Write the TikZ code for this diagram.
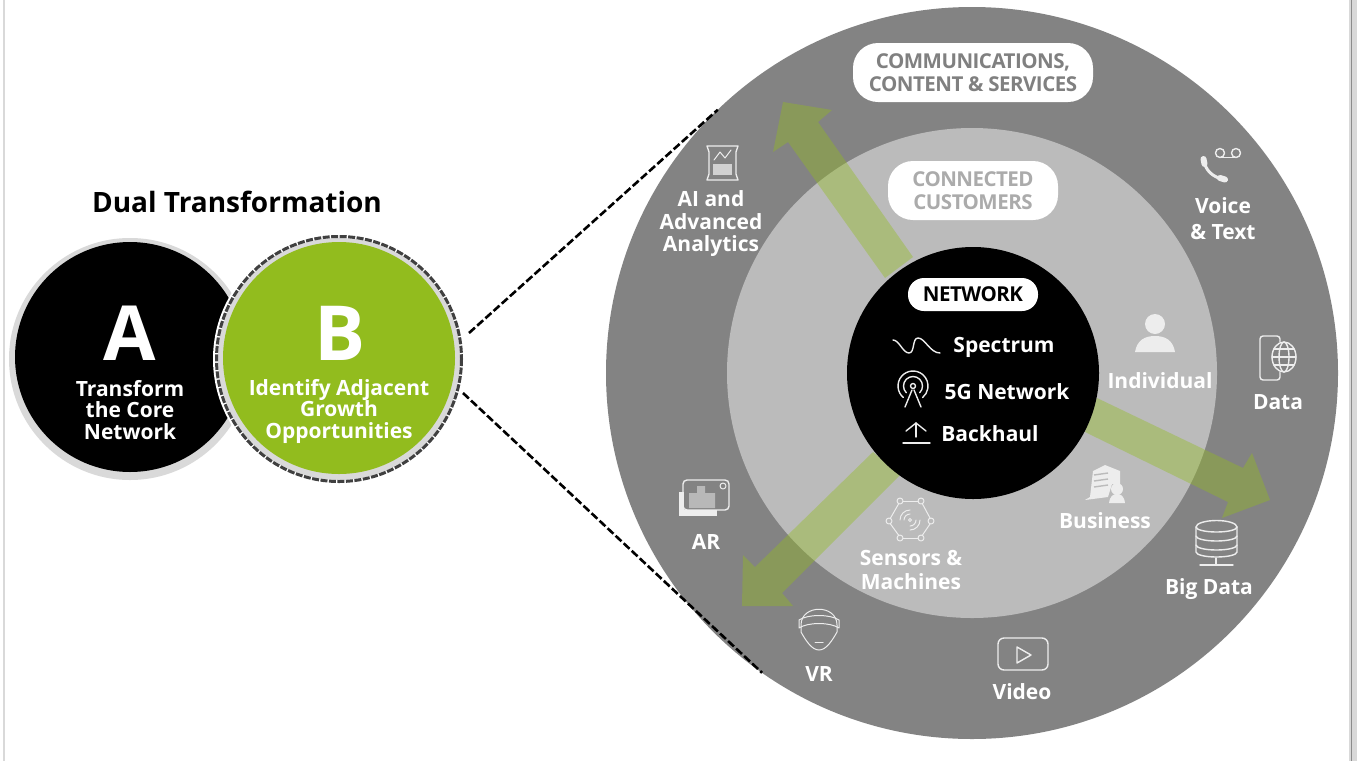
\documentclass[tikz,border=0pt]{standalone}
\usepackage{fontspec}
\setmainfont{Open Sans}
\definecolor{ringdark}{HTML}{838383}
\definecolor{ringlight}{HTML}{BBBBBB}
\definecolor{leafgreen}{HTML}{92BC1E}
\definecolor{haloGray}{HTML}{D9D9D9}
\definecolor{iconwhite}{HTML}{EDEDED}
\begin{document}
\begin{tikzpicture}
	[x=1pt,y=-1pt,
	disc/.style={circle,inner sep=0pt,outer sep=0pt},
	label/.style={text=white,font=\bfseries\fontsize{21}{21.5}\selectfont,align=center,inner sep=0pt},
	bigletter/.style={text=white,font=\bfseries\fontsize{76}{76}\selectfont,inner sep=0pt},
	pill/.style={fill=white,rounded corners=25pt,inner sep=0pt,align=center,font=\addfontfeatures{LetterSpace=-2.5}\bfseries\fontsize{20.5}{23.5}\selectfont},
	growth/.style={fill=leafgreen,opacity=.4},
	guide/.style={draw=black,line width=2.6pt,dash pattern=on 8pt off 3pt},
	icon/.style={draw=iconwhite,line width=1.4pt,line join=round,line cap=round},
	thinicon/.style={icon,line width=1pt},
	iconfill/.style={fill=iconwhite}]
	\fill[white] (0,0) rectangle (1357,761);
	\useasboundingbox (0,0) rectangle (1357,761);
	\fill[haloGray] (3,0) rectangle (5,761);
	\fill[haloGray] (1349,0) rectangle (1357,761);
	\draw[black!45,line width=1pt] (1351,0) -- (1351,761);

	\node[black,font=\bfseries\fontsize{28}{30}\selectfont,inner sep=0pt] (title) at (237,202) {Dual Transformation};
	\node[disc,fill=haloGray,minimum size=242pt] (coreHalo) at (130,359) {};
	\node[disc,fill=black,minimum size=230pt] (core) at (130,357) {};
	\node[disc,fill=white,minimum size=252pt] (adjGap) at (339,359) {};
	\node[disc,fill=haloGray,minimum size=242pt] (adjHalo) at (339,359) {};
	\node[disc,fill=leafgreen,minimum size=232pt] (adj) at (339,358) {};
	\draw[black!75,line width=3pt,dash pattern=on 7pt off 1.5pt] (339,359) circle (122.5);
	\node[bigletter] (letterA) at (130,333) {A};
	\node[bigletter] (letterB) at (340,333) {B};
	\node[label] (coreText) at (130,410) {Transform\\the Core\\Network};
	\node[label] (adjText) at (339,411) {Identify Adjacent\\Growth\\Opportunities};

	\node[disc,fill=ringdark,minimum size=732pt] (outer) at (972,373) {};
	\node[disc,fill=ringlight,minimum size=490pt] (inner) at (972,373) {};

	\coordinate (adjUp) at (469,333);
	\coordinate (adjDown) at (463,393);
	\draw[guide] (adjUp) -- (outer.134.4);
	\draw[guide] (adjDown) -- (outer.235.5);

	\fill[growth] (885,278) -- (788,142) -- (773,152) -- (783,102) -- (832,110) -- (818,122) -- (913,257) -- cycle;
	\fill[growth] (1097,398) -- (1243,468) -- (1252,453) -- (1270,500) -- (1222,518) -- (1228,502) -- (1085,432) -- cycle;
	\fill[growth] (873,452) -- (755,567) -- (743,555) -- (742,606) -- (793,606) -- (782,593) -- (900,475) -- cycle;

	\node[disc,fill=black,minimum size=252pt] (net) at (973,373) {};

	\node[pill,text=black!50,minimum width=240pt,minimum height=59pt] (commPill) at (973,72.5) {COMMUNICATIONS,\\CONTENT \& SERVICES};
	\node[pill,text=black!33,minimum width=170pt,minimum height=59pt] (custPill) at (973,190.5) {CONNECTED\\CUSTOMERS};
	\node[pill,text=black,minimum width=130pt,minimum height=33pt,rounded corners=16pt] (netPill) at (973,294.5) {NETWORK};

	\node[label] (spectrum) at (1004,347) {Spectrum};
	\node[label] (fiveG) at (1007,392) {5G Network};
	\node[label] (backhaul) at (990,434) {Backhaul};
	\node[label] (individual) at (1160,381) {Individual};
	\node[label] (business) at (1105,521) {Business};
	\node[label] (sensors) at (911,570) {Sensors \&\\[3pt]Machines};
	\node[label] (analytics) at (711,224) {AI and\\[1pt]Advanced\\[1pt]Analytics};
	\node[label] (voice) at (1223,218.5) {Voice\\[5pt]\& Text};
	\node[label] (data) at (1278,402) {Data};
	\node[label] (bigData) at (1209,589) {Big Data};
	\node[label] (video) at (1022,692) {Video};
	\node[label] (vr) at (819,674) {VR};
	\node[label] (ar) at (706,542) {AR};

	\draw[icon] (893,340) .. controls (899,340) and (903,353) .. (909,353) .. controls (915,353) and (912,338) .. (918,338) .. controls (925,338) and (930,353) .. (940,353);
	\draw[icon] (913,386) circle (2.5);
	\draw[icon] (913,386) ++(135:9.5) arc (135:405:9.5);
	\draw[icon] (913,386) ++(130:15) arc (130:410:15);
	\draw[icon] (912,390) -- (905,407);
	\draw[icon] (914,390) -- (921,407);
	\draw[icon] (903,443) -- (930,443);
	\draw[icon] (916,437) -- (916,423);
	\draw[icon] (906,431) -- (916,423) -- (926,431);

	\fill[iconfill] (1155,324) circle (10);
	\fill[iconfill] (1135,352) .. controls (1137,340) and (1145,336) .. (1155,336) .. controls (1165,336) and (1173,340) .. (1175,352) -- cycle;

	\draw[icon] (1220,153) circle (4.5);
	\draw[icon] (1236,153) circle (4.5);
	\draw[icon] (1220,157.5) -- (1236,157.5);
	\draw[iconwhite,line width=3pt,line cap=round] (1204,160) .. controls (1205,170) and (1212,177) .. (1225,180);
	\draw[iconwhite,line width=6pt,line cap=round] (1203.5,159) -- (1204.5,164);
	\draw[iconwhite,line width=6pt,line cap=round] (1220,178) -- (1225,179.5);

	\draw[icon,rounded corners=3pt] (1260,336) rectangle (1280,380);
	\fill[ringdark] (1284,357) ellipse (13 and 16);
	\draw[icon] (1284,357) ellipse (12 and 15);
	\draw[icon] (1284,357) ellipse (5 and 15);
	\draw[icon] (1272,357) -- (1296,357);
	\draw[icon] (1274,349) -- (1294,349);
	\draw[icon] (1274,365) -- (1294,365);

	\draw[icon] (707,146) -- (738,146) -- (736,152) -- (736,174) -- (738,180) -- (707,180) -- (709,174) -- (709,152) -- cycle;
	\draw[thinicon] (714,160) -- (720,152) -- (725,158) -- (731,150);
	\fill[iconfill,opacity=.75] (713,164) rectangle (732,175);

	\fill[iconfill] (1090,497) -- (1093,471) -- (1105,465) -- (1120,471) -- (1120,484) -- (1112,484) -- (1108,497) -- (1085,500) -- cycle;
	\draw[ringlight,line width=1.4pt] (1094,475) -- (1108,473);
	\draw[ringlight,line width=1.4pt] (1094,481) -- (1108,479);
	\draw[ringlight,line width=1.4pt] (1094,487) -- (1108,485);
	\fill[iconfill] (1117,489) circle (6);
	\fill[iconfill] (1109,503) .. controls (1110,496) and (1113,494) .. (1117,494) .. controls (1121,494) and (1124,496) .. (1125,503) -- cycle;

	\draw[icon] (1196,527) arc (180:360:20.5 and 6.5) -- (1237,552) arc (0:180:20.5 and 5) -- cycle;
	\draw[icon] (1196,527) arc (180:0:20.5 and 5);
	\draw[icon] (1196,536) arc (180:0:20.5 and 5);
	\draw[icon] (1196,545) arc (180:0:20.5 and 5);
	\draw[icon] (1216,558) -- (1216,565);
	\draw[icon] (1200,565) -- (1233,565);

	\draw[icon,rounded corners=6pt] (998,638) rectangle (1048,670);
	\draw[icon] (1017,647) -- (1017,663) -- (1031,655) -- cycle;

	\draw[thinicon] (801,625) .. controls (801,604) and (837,604) .. (837,625) -- (837,632) .. controls (832,641) and (826,650) .. (819,650) .. controls (812,650) and (806,641) .. (801,632) -- cycle;
	\draw[thinicon] (799,620) .. controls (808,614) and (830,614) .. (839,620) -- (839,628) .. controls (830,622) and (808,622) .. (799,628) -- cycle;
	\draw[thinicon] (815,642) -- (823,642);

	\fill[iconfill] (679,492) rectangle (717,516);
	\fill[ringdark] (684,480) rectangle (729,510);
	\draw[icon,rounded corners=4pt] (683,480) rectangle (729,510);
	\fill[iconfill,opacity=.5] (689,508) -- (689,493) -- (697,493) -- (697,486) -- (705,486) -- (705,493) -- (715,493) -- (715,508) -- cycle;
	\draw[thinicon] (723,486) circle (3);

	\draw[thinicon] (900,501) circle (3);
	\draw[thinicon] (921,501) circle (3);
	\draw[thinicon] (931,521) circle (3);
	\draw[thinicon] (921,538) circle (3);
	\draw[thinicon] (900,538) circle (3);
	\draw[thinicon] (889,521) circle (3);
	\draw[thinicon] (903,501) -- (918,501);
	\draw[thinicon] (922.5,504) -- (930,518);
	\draw[thinicon] (930,524) -- (922.5,535);
	\draw[thinicon] (918,538) -- (903,538);
	\draw[thinicon] (898.5,535) -- (890.5,524);
	\draw[thinicon] (890.5,518) -- (898.5,504);
	\draw[thinicon] (910,520) circle (1.5);
	\draw[thinicon] (910,520) ++(180:6) arc (180:270:6);
	\draw[thinicon] (910,520) ++(0:6) arc (0:90:6);
	\draw[thinicon] (910,520) ++(180:10) arc (180:270:10);
	\draw[thinicon] (910,520) ++(0:10) arc (0:90:10);
\end{tikzpicture}
\end{document}
